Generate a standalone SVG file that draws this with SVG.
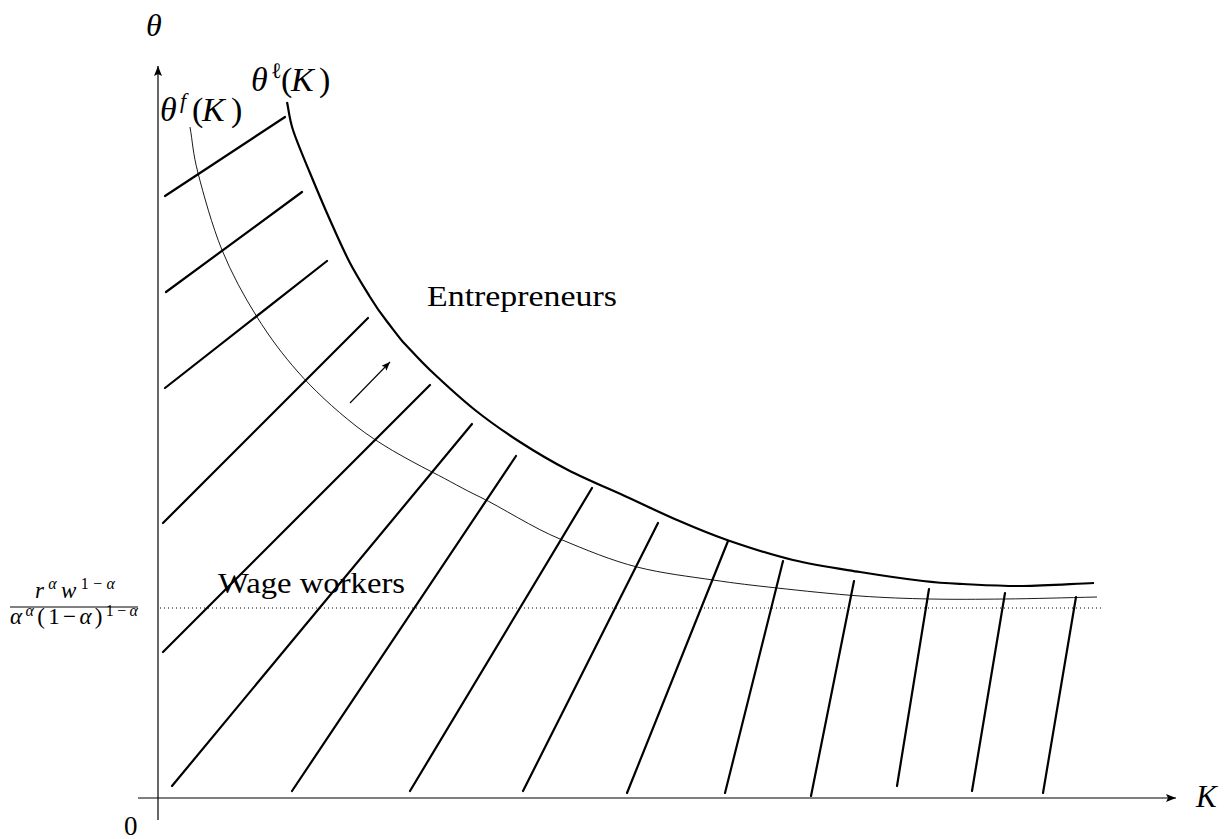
<svg xmlns="http://www.w3.org/2000/svg" width="1227" height="839" viewBox="0 0 1227 839">
<style>
.t{font-family:"Liberation Serif","DejaVu Serif",serif;fill:#000}
.i{font-style:italic}
.hatch{stroke:#000;stroke-width:2.2;fill:none;stroke-linecap:round}
.axis{stroke:#000;stroke-width:1.2;fill:none}
</style>
<defs>
<marker id="ah" viewBox="0 0 10 8" refX="10" refY="4" markerWidth="10" markerHeight="8" markerUnits="userSpaceOnUse" orient="auto">
<path d="M0,0 L10,4 L0,8 L2,4 Z" fill="#000"/>
</marker>
<marker id="ahs" viewBox="0 0 10 8" refX="10" refY="4" markerWidth="9" markerHeight="7" markerUnits="userSpaceOnUse" orient="auto">
<path d="M0,0 L10,4 L0,8 L2,4 Z" fill="#000"/>
</marker>
</defs>
<rect width="1227" height="839" fill="#fff"/>
<g id="axes">
<line class="axis" x1="158" y1="820" x2="158" y2="66" marker-end="url(#ah)"/>
<line class="axis" x1="138" y1="798" x2="1176" y2="798" marker-end="url(#ah)"/>
</g>
<g id="threshold">
<line x1="160" y1="608" x2="1102" y2="608" stroke="#000" stroke-width="1" stroke-dasharray="1 3"/>
</g>
<g id="connectors">
<g id="hatching">
<line class="hatch" x1="165" y1="196" x2="285" y2="117"/>
<line class="hatch" x1="166" y1="292" x2="302" y2="192"/>
<line class="hatch" x1="165" y1="388" x2="327" y2="261"/>
<line class="hatch" x1="163" y1="523" x2="368" y2="318"/>
<line class="hatch" x1="163" y1="652" x2="430" y2="385"/>
<line class="hatch" x1="172" y1="786" x2="472" y2="424"/>
<line class="hatch" x1="292" y1="791" x2="516" y2="456"/>
<line class="hatch" x1="410" y1="791" x2="592" y2="488"/>
<line class="hatch" x1="523" y1="791" x2="658" y2="523"/>
<line class="hatch" x1="627" y1="793" x2="728" y2="541"/>
<line class="hatch" x1="725" y1="793" x2="783" y2="561"/>
<line class="hatch" x1="811" y1="796" x2="854" y2="581"/>
<line class="hatch" x1="897" y1="786" x2="929" y2="589"/>
<line class="hatch" x1="972" y1="791" x2="1005" y2="593"/>
<line class="hatch" x1="1043" y1="793" x2="1076" y2="597"/>
</g>
<path id="theta-l" fill="none" stroke="#000" stroke-width="2.2" d="M287,102 C289,111.3 289.2,118.2 293,130 C296.8,141.8 303.8,158 310,173 C316.2,188 323.3,205 330,220 C336.7,235 343.3,250.2 350,263 C356.7,275.8 364.2,287.5 370,297 C375.8,306.5 381.5,314.5 387,321.5 C392.5,328.5 397,334.7 403,342 C412,351.3 418,358.7 430,370 C442,381.3 460,398 475,410 C490,422 504.5,432 520,442 C535.5,452 550.2,460.8 568,470 C585.8,479.2 608.8,488.7 627,497 C645.2,505.3 660.3,512.8 677,520 C693.7,527.2 707.7,533.3 727,540 C746.3,546.7 770.8,554.7 793,560 C815.2,565.3 838.3,568.5 860,572 C881.7,575.5 905.8,579 923,581 C940.2,583 946.3,583.2 963,584 C979.7,584.8 1001.2,586.2 1023,586 C1044.8,585.8 1070.3,584 1094,583"/>
<path id="theta-f" fill="none" stroke="#000" stroke-width="0.9" d="M190,127 C192.7,142.3 192.7,152.5 198,173 C203.3,193.5 212.2,226 222,250 C231.8,274 244,296.2 257,317 C270,337.8 283,355 298,372 C313,389 333,408 356,426 C379,444 405,458 432,472 C450,481 463,489 480,497 C501,507 533,528 560,539 C586.2,550 611.5,560.5 637,567 C662.5,573.5 689.7,576.5 713,580 C736.3,583.5 752.5,585.3 777,588 C801.5,590.7 834.5,594.2 860,596 C885.5,597.8 905.8,598.5 930,599 C954.2,599.5 977.2,599.3 1005,599 C1032.8,598.7 1066.3,597.7 1097,597"/>
<line id="shift-arrow" x1="350" y1="403" x2="390" y2="362" stroke="#000" stroke-width="1.1" marker-end="url(#ahs)"/>
</g>
<g id="label-theta"><text class="t i" x="146" y="36" font-size="32">θ</text></g>
<g id="label-K"><text class="t i" x="1196" y="807" font-size="31">K</text></g>
<g id="label-zero"><text class="t" x="124" y="835" font-size="27">0</text></g>
<g id="label-theta-f"><text class="t" y="121" font-size="34"><tspan class="i" x="160">θ</tspan><tspan class="i" font-size="22" x="180" dy="-13">f</tspan><tspan x="192" dy="13">(</tspan><tspan class="i" x="202">K</tspan><tspan x="231">)</tspan></text></g>
<g id="label-theta-l"><text class="t" y="91" font-size="34"><tspan class="i" x="251">θ</tspan><tspan font-size="22" x="271" dy="-13">ℓ</tspan><tspan x="281" dy="13">(</tspan><tspan class="i" x="291">K</tspan><tspan x="319">)</tspan></text></g>
<g id="label-entrepreneurs"><text class="t" x="427" y="306" font-size="29" textLength="190" lengthAdjust="spacingAndGlyphs">Entrepreneurs</text></g>
<g id="label-wage"><text class="t" x="218" y="593" font-size="29" textLength="187" lengthAdjust="spacingAndGlyphs">Wage workers</text></g>
<g id="label-threshold">
<text class="t" x="35" y="598" font-size="23" textLength="80" lengthAdjust="spacing"><tspan class="i">r</tspan><tspan class="i" font-size="16" dy="-9">α</tspan><tspan class="i" dy="9">w</tspan><tspan font-size="16" dy="-9">1−</tspan><tspan class="i" font-size="16">α</tspan></text>
<line x1="10" y1="607" x2="138" y2="607" stroke="#000" stroke-width="1"/>
<text class="t" x="10" y="624" font-size="23" textLength="128" lengthAdjust="spacing"><tspan class="i">α</tspan><tspan class="i" font-size="16" dy="-8">α</tspan><tspan dy="8">(1−</tspan><tspan class="i">α</tspan>)<tspan font-size="16" dy="-8">1−</tspan><tspan class="i" font-size="16">α</tspan></text>
</g>
</svg>
